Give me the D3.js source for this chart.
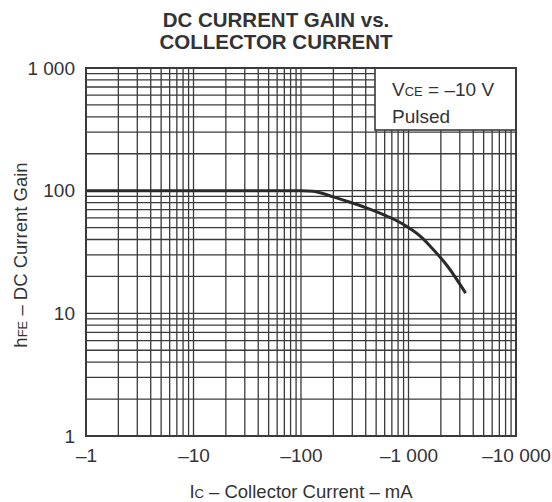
<!DOCTYPE html>
<html>
<head>
<meta charset="utf-8">
<script src="https://cdn.jsdelivr.net/npm/d3@7"></script>
<style>
  body { margin: 0; background: #fff; }
  svg { display: block; font-family: 'Liberation Sans', Arial, sans-serif; }
</style>
</head>
<body>
<div id="chart"></div>
<script>
// DC current gain vs collector current

// collector current magnitude, mA (plotted as negative)
var icValues = [1, 10, 100, 130, 200, 300, 400, 550, 700, 1000, 1300, 1600, 2300, 3400]
// hFE
var hfeValues = [100, 100, 100, 98.9, 89, 79.4, 72.8, 65.3, 59.6, 50.1, 42.2, 35.1, 24.3, 14.6]

var xTickValues = [1, 10, 100, 1000, 10000]
var xTickLabels = ['–1', '–10', '–100', '–1 000', '–10 000']
var yTickValues = [1, 10, 100, 1000]
var yTickLabels = ['1', '10', '100', '1 000']

var width = 552
var height = 502
var margin = { top: 68, right: 36, bottom: 66, left: 86 }
var plotW = width - margin.left - margin.right
var plotH = height - margin.top - margin.bottom
var ink = '#3a3a3a'

var svg = d3.select('#chart')
  .append('svg')
  .attr('width', width)
  .attr('height', height)

var x = d3.scaleLog().domain([1, 10000]).range([0, plotW])
var y = d3.scaleLog().domain([1, 1000]).range([plotH, 0])

var g = svg.append('g')
  .attr('transform', `translate(${margin.left},${margin.top})`)

// Grid lines (1..9 per decade)
g.append('g')
  .attr('class', 'grid-x')
  .selectAll('line')
  .data(x.ticks())
  .join('line')
  .attr('x1', d => x(d)).attr('x2', d => x(d))
  .attr('y1', 0).attr('y2', plotH)
  .attr('stroke', ink)
  .attr('stroke-width', 1.3)

g.append('g')
  .attr('class', 'grid-y')
  .selectAll('line')
  .data(y.ticks())
  .join('line')
  .attr('x1', 0).attr('x2', plotW)
  .attr('y1', d => y(d)).attr('y2', d => y(d))
  .attr('stroke', ink)
  .attr('stroke-width', 1.3)

// Curve
var line = d3.line()
  .x(d => x(d[0]))
  .y(d => y(d[1]))
  .curve(d3.curveMonotoneX)

g.append('path')
  .datum(icValues.map((v, i) => [v, hfeValues[i]]))
  .attr('d', line)
  .attr('fill', 'none')
  .attr('stroke', '#2a2a2a')
  .attr('stroke-width', 3)

// Legend box (covers the grid in the top right corner)
var boxLeft = 375 - margin.left
var box = g.append('g')
box.append('rect')
  .attr('x', boxLeft)
  .attr('y', 0)
  .attr('width', plotW - boxLeft)
  .attr('height', 62)
  .attr('fill', '#fff')
  .attr('stroke', ink)
  .attr('stroke-width', 1.6)

var t1 = box.append('text')
  .attr('x', boxLeft + 17)
  .attr('y', 28)
  .attr('font-size', 19)
  .attr('fill', '#333')
t1.append('tspan').text('V')
t1.append('tspan').attr('font-size', 13).text('CE')
t1.append('tspan').text(' = –10 V')

box.append('text')
  .attr('x', boxLeft + 17)
  .attr('y', 55)
  .attr('font-size', 19)
  .attr('fill', '#333')
  .text('Pulsed')

// Frame
g.append('rect')
  .attr('width', plotW)
  .attr('height', plotH)
  .attr('fill', 'none')
  .attr('stroke', ink)
  .attr('stroke-width', 2)

// Axes (labels only, no tick marks)
var xAxis = d3.axisBottom(x)
  .tickValues(xTickValues)
  .tickFormat((d, i) => xTickLabels[i])
  .tickSize(0)
  .tickPadding(13)

g.append('g')
  .attr('transform', `translate(0,${plotH})`)
  .call(xAxis)
  .call(a => a.select('.domain').remove())
  .selectAll('text')
  .attr('font-size', 19)
  .attr('font-family', 'Liberation Sans, Arial, sans-serif')
  .attr('fill', '#333')

var yAxis = d3.axisLeft(y)
  .tickValues(yTickValues)
  .tickFormat((d, i) => yTickLabels[i])
  .tickSize(0)
  .tickPadding(11)

g.append('g')
  .call(yAxis)
  .call(a => a.select('.domain').remove())
  .selectAll('text')
  .attr('font-size', 19)
  .attr('font-family', 'Liberation Sans, Arial, sans-serif')
  .attr('fill', '#333')

// Title
svg.append('text')
  .attr('x', 276)
  .attr('y', 27)
  .attr('text-anchor', 'middle')
  .attr('font-size', 20.5)
  .attr('font-weight', 'bold')
  .attr('fill', '#333')
  .text('DC CURRENT GAIN vs.')

svg.append('text')
  .attr('x', 276)
  .attr('y', 48.5)
  .attr('text-anchor', 'middle')
  .attr('font-size', 20.5)
  .attr('font-weight', 'bold')
  .attr('fill', '#333')
  .text('COLLECTOR CURRENT')

// Axis titles
var xt = svg.append('text')
  .attr('x', margin.left + plotW / 2)
  .attr('y', 498)
  .attr('text-anchor', 'middle')
  .attr('font-size', 18.5)
  .attr('fill', '#333')
xt.append('tspan').text('I')
xt.append('tspan').attr('font-size', 13).text('C')
xt.append('tspan').text(' – Collector Current – mA')

var yt = svg.append('text')
  .attr('transform', `translate(27,${margin.top + plotH / 2 + 3}) rotate(-90)`)
  .attr('text-anchor', 'middle')
  .attr('font-size', 18.5)
  .attr('fill', '#333')
yt.append('tspan').text('h')
yt.append('tspan').attr('font-size', 13).text('FE')
yt.append('tspan').text(' – DC Current Gain')
</script>
</body>
</html>
